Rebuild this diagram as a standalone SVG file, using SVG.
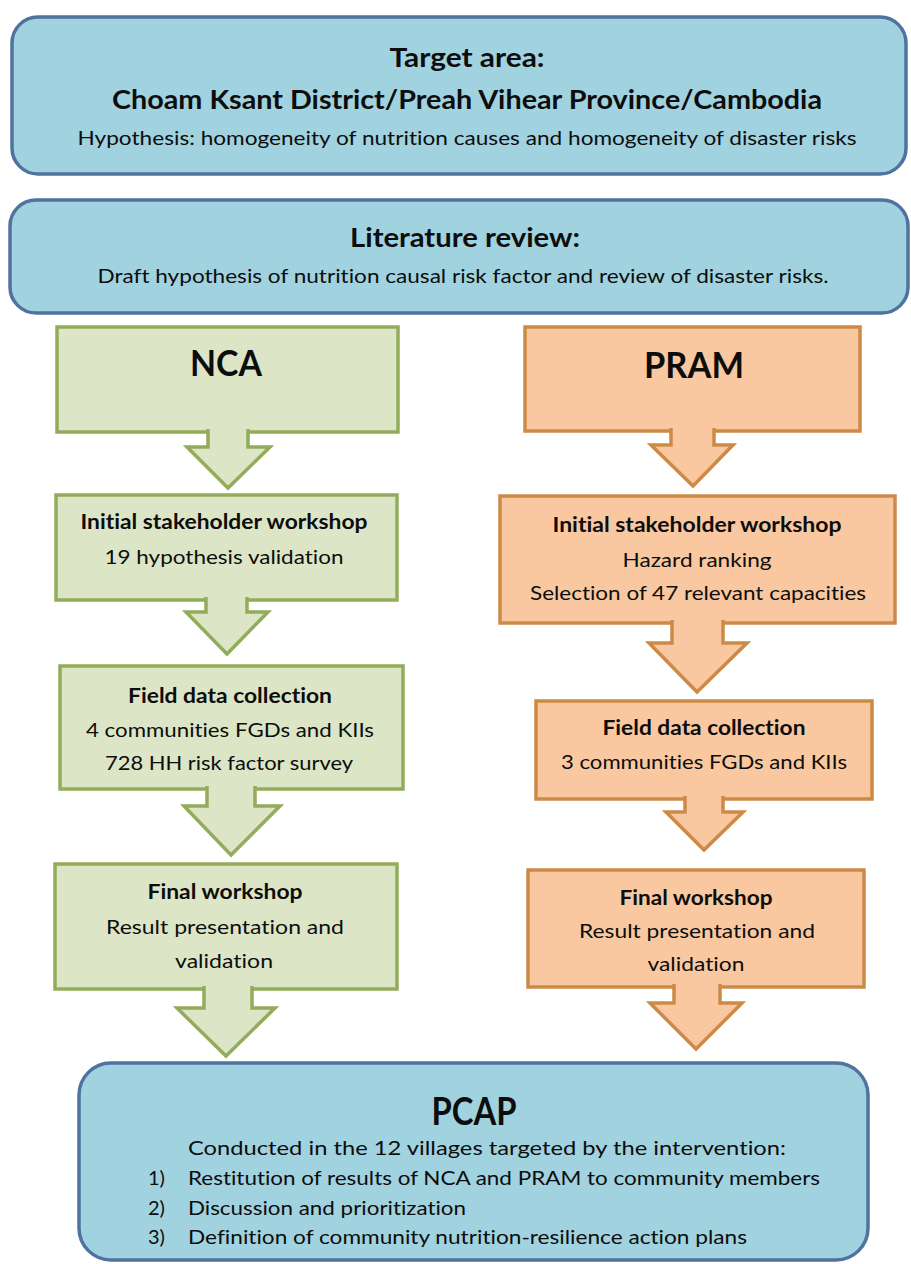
<svg xmlns="http://www.w3.org/2000/svg" width="911" height="1264" viewBox="0 0 911 1264">
  <style>
    text { font-family: Lato, "Open Sans", "Liberation Sans", sans-serif; fill: #0d0d0d; text-anchor: middle; font-variant-ligatures: none; font-feature-settings: "liga" 0; }
    .b { font-weight: bold; }
    .h1 { font-size: 27px; }
    .big { font-size: 36px; }
    .t { font-size: 20px; }
    .blue { fill: #a1d2df; stroke: #50729e; stroke-width: 3.5; }
    .green { fill: #dce6c6; stroke: #93ac5b; stroke-width: 3.5; }
    .orange { fill: #f9c8a0; stroke: #cd8a47; stroke-width: 3.5; }
    .l { text-anchor: start; }
  </style>

  <!-- Top context box -->
  <g id="target-area">
    <rect class="blue" x="12" y="17" width="894" height="157" rx="26"/>
    <text class="b h1" x="467" y="67" textLength="155" lengthAdjust="spacingAndGlyphs">Target area:</text>
    <text class="b h1" x="467" y="109" textLength="710" lengthAdjust="spacingAndGlyphs">Choam Ksant District/Preah Vihear Province/Cambodia</text>
    <text class="t" x="467" y="145" textLength="779" lengthAdjust="spacingAndGlyphs">Hypothesis: homogeneity of nutrition causes and homogeneity of disaster risks</text>
  </g>

  <g id="literature-review">
    <rect class="blue" x="10" y="200" width="898" height="113" rx="26"/>
    <text class="b h1" x="465" y="247" textLength="230" lengthAdjust="spacingAndGlyphs">Literature review:</text>
    <text class="t" x="463" y="283" textLength="731" lengthAdjust="spacingAndGlyphs">Draft hypothesis of nutrition causal risk factor and review of disaster risks.</text>
  </g>

  <!-- NCA column -->
  <g id="nca">
    <rect class="green" x="57" y="327" width="341" height="105"/>
    <text class="b big" x="226" y="376" textLength="72" lengthAdjust="spacingAndGlyphs">NCA</text>
  </g>
  <g id="nca-initial-workshop">
    <rect class="green" x="56" y="495" width="341" height="105"/>
    <text class="b t" x="224" y="529" textLength="287" lengthAdjust="spacingAndGlyphs">Initial stakeholder workshop</text>
    <text class="t" x="224" y="564" textLength="239" lengthAdjust="spacingAndGlyphs">19 hypothesis validation</text>
  </g>
  <g id="nca-field-data">
    <rect class="green" x="60" y="666" width="343" height="123"/>
    <text class="b t" x="230" y="703" textLength="204" lengthAdjust="spacingAndGlyphs">Field data collection</text>
    <text class="t" x="230" y="737" textLength="288" lengthAdjust="spacingAndGlyphs">4 communities FGDs and KIIs</text>
    <text class="t" x="229" y="770" textLength="248" lengthAdjust="spacingAndGlyphs">728 HH risk factor survey</text>
  </g>
  <g id="nca-final-workshop">
    <rect class="green" x="55" y="864" width="342" height="125"/>
    <text class="b t" x="225" y="899" textLength="155" lengthAdjust="spacingAndGlyphs">Final workshop</text>
    <text class="t" x="225" y="934" textLength="238" lengthAdjust="spacingAndGlyphs">Result presentation and</text>
    <text class="t" x="224" y="968" textLength="98" lengthAdjust="spacingAndGlyphs">validation</text>
  </g>

  <!-- PRAM column -->
  <g id="pram">
    <rect class="orange" x="525" y="327" width="335" height="104"/>
    <text class="b big" x="694" y="378" textLength="100" lengthAdjust="spacingAndGlyphs">PRAM</text>
  </g>
  <g id="pram-initial-workshop">
    <rect class="orange" x="500" y="496" width="395" height="127"/>
    <text class="b t" x="697" y="532" textLength="289" lengthAdjust="spacingAndGlyphs">Initial stakeholder workshop</text>
    <text class="t" x="697" y="567" textLength="149" lengthAdjust="spacingAndGlyphs">Hazard ranking</text>
    <text class="t" x="698" y="600" textLength="336" lengthAdjust="spacingAndGlyphs">Selection of 47 relevant capacities</text>
  </g>
  <g id="pram-field-data">
    <rect class="orange" x="536" y="701" width="336" height="98"/>
    <text class="b t" x="704" y="735" textLength="203" lengthAdjust="spacingAndGlyphs">Field data collection</text>
    <text class="t" x="704" y="769" textLength="286" lengthAdjust="spacingAndGlyphs">3 communities FGDs and KIIs</text>
  </g>
  <g id="pram-final-workshop">
    <rect class="orange" x="528" y="870" width="336" height="117"/>
    <text class="b t" x="696" y="905" textLength="153" lengthAdjust="spacingAndGlyphs">Final workshop</text>
    <text class="t" x="697" y="938" textLength="236" lengthAdjust="spacingAndGlyphs">Result presentation and</text>
    <text class="t" x="696" y="971" textLength="97" lengthAdjust="spacingAndGlyphs">validation</text>
  </g>

  <!-- Bottom action-planning box -->
  <g id="pcap">
    <rect class="blue" x="79" y="1063" width="789" height="197" rx="32"/>
    <text class="b" x="474" y="1125" font-size="38" textLength="85" lengthAdjust="spacingAndGlyphs">PCAP</text>
    <text class="t l" x="188" y="1155" textLength="598" lengthAdjust="spacingAndGlyphs">Conducted in the 12 villages targeted by the intervention:</text>
    <text class="t l" x="148" y="1185">1)</text>
    <text class="t l" x="188" y="1185" textLength="632" lengthAdjust="spacingAndGlyphs">Restitution of results of NCA and PRAM to community members</text>
    <text class="t l" x="148" y="1215">2)</text>
    <text class="t l" x="188" y="1215" textLength="278" lengthAdjust="spacingAndGlyphs">Discussion and prioritization</text>
    <text class="t l" x="148" y="1244">3)</text>
    <text class="t l" x="188" y="1244" textLength="559" lengthAdjust="spacingAndGlyphs">Definition of community nutrition-resilience action plans</text>
  </g>

  <!-- Block arrows: open at the top so their fill hides the box edge they grow from -->
  <g id="connectors">
    <path class="green" d="M208,429 V447 H187 L228,488 L270,447 H248 V429"/>
    <path class="green" d="M206,597 V612 H186 L227,654 L268,612 H247 V597"/>
    <path class="green" d="M207,786 V806 H184 L231,855 L280,806 H255 V786"/>
    <path class="green" d="M204,986 V1008 H177 L226,1056 L275,1008 H252 V986"/>

    <path class="orange" d="M671,428 V445 H651 L693,486 L733,445 H714 V428"/>
    <path class="orange" d="M672,620 V643 H649 L697,692 L747,643 H723 V620"/>
    <path class="orange" d="M685,796 V812 H666 L704,850 L743,812 H723 V796"/>
    <path class="orange" d="M674,984 V1003 H650 L696,1049 L742,1003 H720 V984"/>
  </g>
</svg>
